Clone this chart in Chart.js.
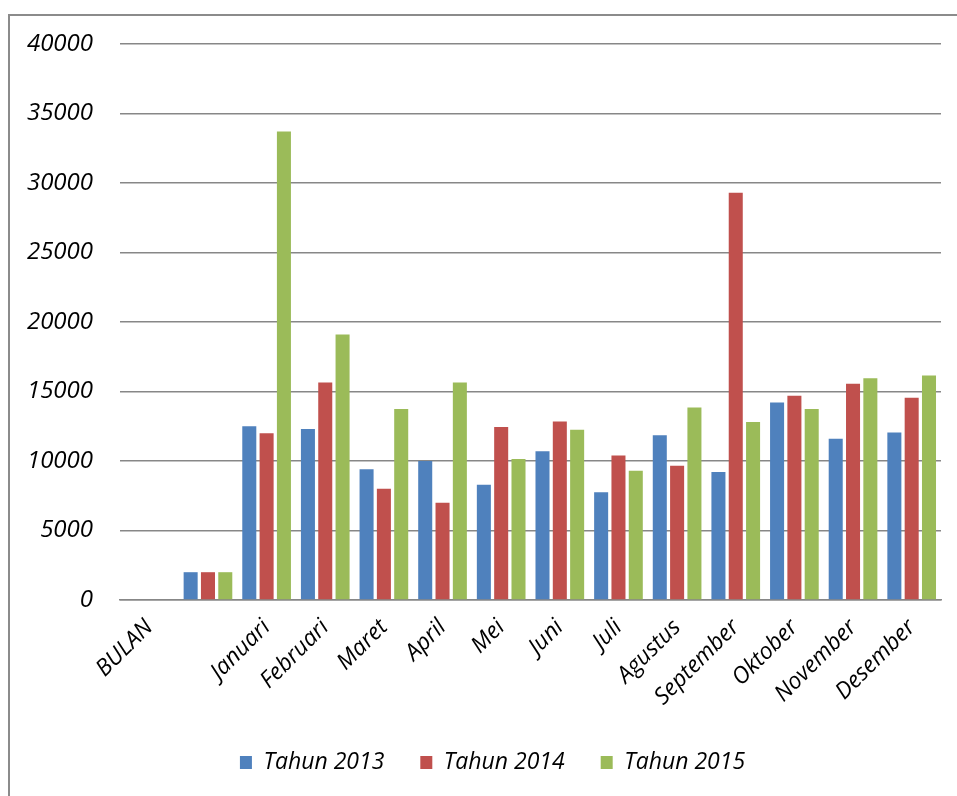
<!DOCTYPE html>
<html>
<head>
<meta charset="utf-8">
<script src="https://cdn.jsdelivr.net/npm/chart.js@4/dist/chart.umd.min.js"></script>
<style>
  html, body { margin: 0; padding: 0; background: #ffffff; overflow: hidden; }
  #frame { position: absolute; left: 8px; top: 14px; width: 1100px; height: 1000px;
           border: 2px solid #8b8b8b; box-sizing: border-box; }
  #wrap { position: absolute; left: 0; top: 0; width: 957px; height: 796px; }
</style>
</head>
<body>
<div id="frame"></div>
<div id="wrap"><canvas id="c" width="957" height="796"></canvas></div>
<script>
// Monthly figures per year; the first two rows come from the sheet's header area.
const categories = ['BULAN', '', 'Januari', 'Februari', 'Maret', 'April', 'Mei', 'Juni',
  'Juli', 'Agustus', 'September', 'Oktober', 'November', 'Desember'];
const tahun2013 = [null, 2000, 12500, 12300, 9400, 10000, 8300, 10700, 7750, 11850, 9200, 14200, 11600, 12050];
const tahun2014 = [null, 2000, 12000, 15650, 8000, 7000, 12450, 12850, 10400, 9650, 29300, 14700, 15550, 14550];
const tahun2015 = [null, 2000, 33700, 19100, 13750, 15650, 10150, 12250, 9300, 13850, 12800, 13750, 15950, 16150];
const seriesNames = ['Tahun 2013', 'Tahun 2014', 'Tahun 2015'];
const yTicks = [0, 5000, 10000, 15000, 20000, 25000, 30000, 35000, 40000];

const colors = ['#4F81BD', '#C0504D', '#9BBB59'];
const fontFamily = '"Open Sans", "Liberation Sans", sans-serif';
const gridColor = '#878787';

const ds = [tahun2013, tahun2014, tahun2015].map((vals, i) => ({
  label: seriesNames[i],
  data: vals,
  backgroundColor: colors[i],
  borderWidth: 0,
  categoryPercentage: 0.886,
  barPercentage: 0.81
}));

// Nudge the legend row a little to the right of the canvas centre.
const legendShift = {
  id: 'legendShift',
  afterLayout(chart) {
    const lg = chart.legend;
    if (lg) { lg.left += 12; lg.right += 12; }
  }
};

new Chart(document.getElementById('c'), {
  type: 'bar',
  data: { labels: categories, datasets: ds },
  plugins: [legendShift],
  options: {
    responsive: false,
    animation: false,
    devicePixelRatio: 1,
    layout: { padding: { left: 20, right: 16, top: 44, bottom: 12 } },
    plugins: {
      tooltip: { enabled: false },
      legend: {
        position: 'bottom',
        labels: {
          boxWidth: 12,
          boxHeight: 13,
          padding: 36,
          color: '#000000',
          font: { family: fontFamily, size: 23, style: 'italic' }
        }
      }
    },
    scales: {
      x: {
        grid: { display: false, drawTicks: false },
        border: { display: true, color: gridColor, width: 1.5 },
        ticks: {
          autoSkip: false,
          minRotation: 45,
          maxRotation: 45,
          padding: 14,
          color: '#000000',
          font: { family: fontFamily, size: 23, style: 'italic' }
        },
        afterFit: (s) => { s.height = 115; }
      },
      y: {
        min: 0,
        max: 40000,
        afterBuildTicks: (s) => { s.ticks = yTicks.map(v => ({ value: v })); },
        grid: { color: gridColor, lineWidth: 1.5, drawTicks: false },
        border: { display: false },
        ticks: {
          padding: 27,
          color: '#000000',
          font: { family: fontFamily, size: 24, style: 'italic' },
          callback: (v) => String(v)
        },
        afterFit: (s) => { s.width = 100; }
      }
    }
  }
});
</script>
</body>
</html>
